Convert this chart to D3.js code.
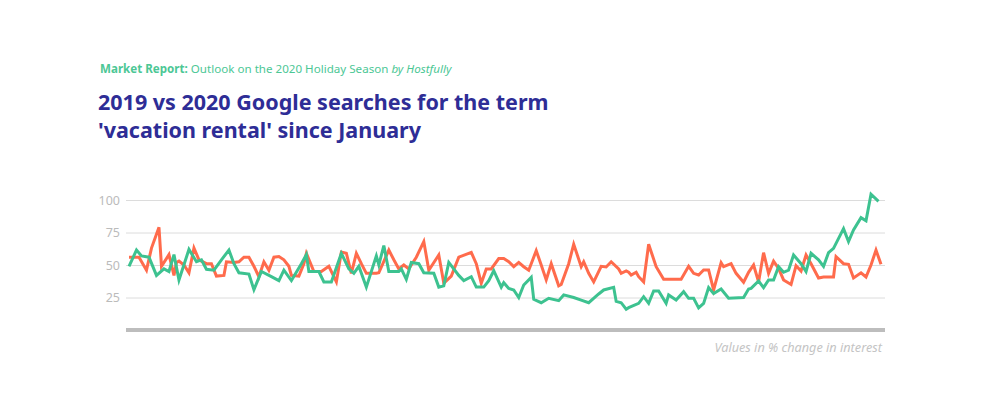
<!DOCTYPE html>
<html><head><meta charset="utf-8">
<script src="https://cdn.jsdelivr.net/npm/d3@7"></script>
<style>
body{margin:0;background:#fff;}
svg{display:block;}
</style></head>
<body><svg id="chart" width="982" height="404"></svg>
<script>
// [day since Jan 1, % interest]
const series2019 = [[0,56],[4,56],[7,46],[9,63],[12,79],[13,49],[16,58],[18,42],[19,52],[20,53],[22,50],[24,44],[26,63],[28,54],[31,51],[33,51],[35,41.5],[38,42],[39,52.5],[42,52],[44,52.5],[46,56],[48,56],[50,49],[52,41],[54,52.5],[56,46],[58,56],[60,56.5],[62,54],[64,49],[65,42],[68,41.5],[70,51],[71,59],[74,45],[77,45],[80,49],[83,37],[85,60],[87,59],[89,43.6],[91,59],[93,51],[95,43.6],[99,43.6],[100,44],[104,61.5],[106,54],[108,47],[110,50],[112,47],[115,56],[118,68],[120,46],[124,57.7],[126,36],[129,41.5],[132,56],[137,59.7],[139,51],[141,36],[143,47],[145,47],[148,55],[150,55],[152,52.5],[154,48.7],[156,52],[158,48.7],[160,46],[163,61],[165,50],[167,38.5],[169,51],[172,34],[173,35],[176,51],[178,66],[181,48.7],[182,52.5],[184,43.6],[186,37],[189,49],[191,48.5],[193,52.5],[196,47],[197,43.6],[199,45.4],[200,44.4],[201,42.3],[203,44.4],[204,41],[206,37],[208,66],[211,48.7],[214,39],[217,39],[221,39],[224,49],[226,43.6],[228,42.3],[230,46.2],[232,46.2],[234,30.8],[237,51.8],[238,48.7],[241,51],[243,43.6],[246,36.7],[248,44.4],[250,50],[252,37],[254,59.5],[256,43.6],[258,53],[260,47.4],[262,38.5],[265,35],[267,49.5],[269,45.4],[271,57.7],[273,51],[276,40],[278,40.8],[282,40.8],[283,56.4],[286,51],[288,50.5],[290,40],[293,44],[295,40.8],[297,50],[299,61.5],[301,50.5]];
const series2020 = [[0,49],[3,61.5],[5,57],[8,56],[11,42],[14,47],[16,45],[18,58],[20,38.5],[24,62],[27,52.5],[29,54],[31,46.7],[34,46],[37,54],[40,61.5],[42,51],[44,44],[48,43],[50,31],[53,45],[57,41],[60,38],[62,46],[65,38],[69,51],[71,58],[72,45],[76,45],[78,37],[81,37],[85,59],[88,47],[90,43.6],[92,49],[95,33],[99,57],[100,50],[102,65],[104,45],[108,45],[109,47],[111,39],[113,52],[116,51],[118,44],[122,43.6],[124,33],[126,34],[128,52],[132,42],[134,38],[137,41],[139,33],[142,33],[144,38],[146,45.6],[149,33],[150,36.4],[152,32],[154,30.8],[156,25],[158,34.6],[161,40.5],[162,23.6],[165,21],[168,24.4],[172,22.6],[174,27],[178,25],[181,23],[184,21],[188,27.7],[190,30.8],[194,32.8],[195,22],[197,21],[199,16],[200,17.2],[204,20.5],[206,25.6],[208,20.5],[210,30],[212,30],[215,20.5],[216,27],[219,23],[222,29.5],[224,24.4],[226,24.4],[228,17],[230,20.5],[232,32.6],[234,28],[237,31.5],[240,24.4],[246,25],[248,31.5],[249,32],[252,37.7],[254,32.6],[256,38.5],[258,38.5],[260,48.7],[262,44.4],[264,46],[266,57.7],[269,51],[271,45],[273,59],[276,54],[278,49],[280,59.5],[282,62.8],[286,78],[288,68],[290,77],[293,86.4],[295,84],[297,104.4],[300,99]];
const yTicks = [25, 50, 75, 100];
const subtitleParts = ["Market Report:", " Outlook on the 2020 Holiday Season ", "by Hostfully"];
const titleLines = ["2019 vs 2020 Google searches for the term", "'vacation rental' since January"];
const note = "Values in % change in interest";

const svg = d3.select("#chart");
const font = "'Noto Sans', 'Open Sans', sans-serif";
const green = "#3dc290", orange = "#ff6b4c";

// Subtitle
const sub = svg.append("text").attr("x", 100).attr("y", 73)
  .attr("font-family", font).attr("font-size", 11.6).attr("fill", "#4cc795");
sub.append("tspan").attr("font-weight", 700).text(subtitleParts[0]);
sub.append("tspan").text(subtitleParts[1]);
sub.append("tspan").attr("font-style", "italic").text(subtitleParts[2]);

// Title
svg.append("g").selectAll("text").data(titleLines).join("text")
  .attr("x", 98).attr("y", (d, i) => 110 + i * 28)
  .attr("font-family", font).attr("font-size", 21.5).attr("font-weight", 700)
  .attr("fill", "#2e2d96").text(d => d);

const x = d3.scaleLinear().domain([0, 301]).range([129, 881]);
const y = d3.scaleLinear().domain([0, 100]).range([330, 200]);

// Grid
const yAxis = d3.axisLeft(y).tickValues(yTicks).tickSize(-(885 - 126)).tickPadding(6);
const ga = svg.append("g").attr("transform", "translate(126,0)").call(yAxis);
ga.select(".domain").remove();
ga.selectAll("line").attr("stroke", "#dcdcdc").attr("stroke-width", 1);
ga.selectAll("text").attr("font-family", font).attr("font-size", 12.5).attr("fill", "#bbbbbb");

// Baseline
svg.append("line").attr("x1", 126).attr("x2", 885).attr("y1", y(0)).attr("y2", y(0))
  .attr("stroke", "#bdbdbd").attr("stroke-width", 4);

const line = d3.line().x(d => x(d[0])).y(d => y(d[1]));
svg.append("path").datum(series2019).attr("d", line).attr("fill", "none")
  .attr("stroke", orange).attr("stroke-width", 3).attr("stroke-linejoin", "miter");
svg.append("path").datum(series2020).attr("d", line).attr("fill", "none")
  .attr("stroke", green).attr("stroke-width", 3).attr("stroke-linejoin", "miter");

svg.append("text").attr("x", 882).attr("y", 352).attr("text-anchor", "end")
  .attr("font-family", font).attr("font-size", 12.7).attr("font-style", "italic")
  .attr("fill", "#c4c4c4").text(note);
</script></body></html>
